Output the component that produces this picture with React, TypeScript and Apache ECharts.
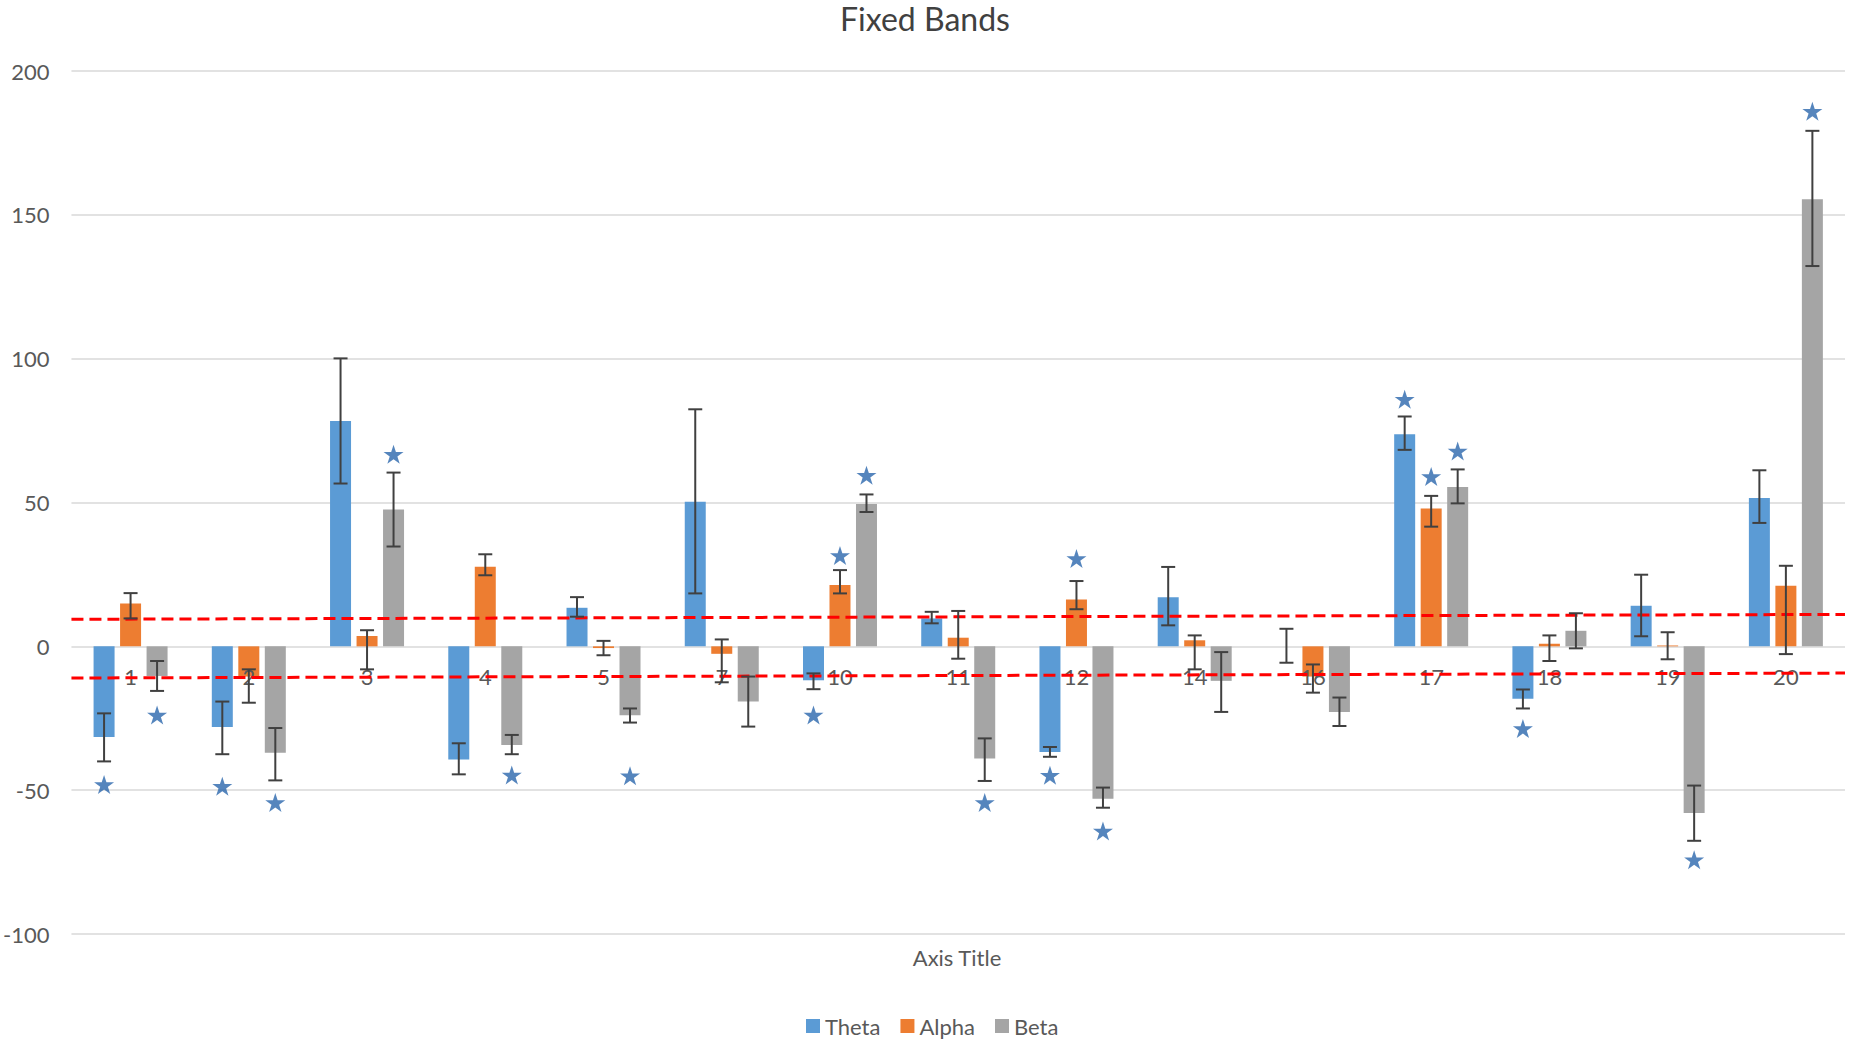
import React, { useEffect, useRef } from "react";
import * as echarts from "echarts";

const categories = ["1", "2", "3", "4", "5", "7", "10", "11", "12", "14", "16", "17", "18", "19", "20"];
const seriesNames = ["Theta", "Alpha", "Beta"];

const theta = [-31.5, -28, 78.3, -39.3, 13.4, 50.3, -11.8, 9.7, -36.7, 17.1, 0, 73.7, -18.2, 14.1, 51.6];
const thetaLow = [-40, -37.5, 56.6, -44.5, 10.3, 18.4, -14.9, 8, -38.4, 7.3, -5.7, 68.3, -21.6, 3.5, 42.9];
const thetaHigh = [-23.3, -19.2, 100.1, -33.7, 17.1, 82.4, -9.4, 12, -35, 27.6, 6.1, 79.9, -15, 24.9, 61.2];

const alpha = [14.9, -10.5, 3.6, 27.7, -0.6, -2.6, 21.3, 3, 16.3, 2.1, -10.5, 47.9, 0.9, 0.3, 21.1];
const alphaLow = [9.7, -19.6, -8, 24.7, -3.1, -12.5, 18.4, -4.3, 12.9, -8, -16.1, 41.6, -5.1, -4.5, -2.7];
const alphaHigh = [18.5, -8, 5.6, 32, 1.9, 2.4, 26.5, 12.3, 22.7, 3.8, -6.3, 52.3, 3.8, 4.9, 28];

const beta = [-10.3, -37, 47.6, -34.3, -24, -19.2, 49.5, -39, -53, -12, -22.8, 55.4, 5.4, -57.9, 155.4];
const betaLow = [-15.5, -46.6, 34.7, -37.5, -26.5, -27.9, 46.7, -46.8, -56.1, -22.8, -27.7, 49.7, -0.7, -67.6, 132.2];
const betaHigh = [-5.1, -28.4, 60.4, -30.8, -21.6, -10.5, 52.8, -32, -49.1, -2, -17.8, 61.5, 11.5, -48.4, 179.2];

const thetaStars = [-48, -48.6, null, null, null, null, -23.9, null, -44.8, null, null, 85.9, -28.6, null, null];
const alphaStars = [null, null, null, null, null, null, 31.6, null, 30.5, null, null, 59, null, null, null];
const betaStars = [-23.9, -54.3, 66.8, -44.7, -45, null, 59.5, -54.3, -64.2, null, null, 67.9, null, -74.2, 186];

// band lines: value at left edge, value at right edge
const upperBand = [9.4, 11.1];
const lowerBand = [-11.0, -9.3];

const yTicks = { min: -100, max: 200, interval: 50 };

const COLORS = ["#5B9BD5", "#ED7D31", "#A5A5A5"];
const STAR_COLOR = "#2B67AC";
const FONT = "Lato, 'Open Sans', sans-serif";
const BAR_W = 21;
const BAR_GAP_PX = 5.5;
const STAR_PATH =
  "path://M50,0 L61.2,34.5 L97.6,34.5 L68.2,55.9 L79.4,90.5 L50,69.1 L20.6,90.5 L31.8,55.9 L2.4,34.5 L38.8,34.5 Z";

function offsetFor(i: number) {
  return (i - 1) * (BAR_W + BAR_GAP_PX);
}

export default function App() {
  const ref = useRef<HTMLDivElement>(null);

  useEffect(() => {
    if (!ref.current) return;
    const chart = echarts.init(ref.current, undefined, { renderer: "svg" });

    const values = [theta, alpha, beta];
    const lows = [thetaLow, alphaLow, betaLow];
    const highs = [thetaHigh, alphaHigh, betaHigh];
    const stars = [thetaStars, alphaStars, betaStars];

    const barSeries = seriesNames.map((name, si) => ({
      name,
      type: "bar",
      data: values[si],
      barWidth: BAR_W,
      barGap: `${(BAR_GAP_PX / BAR_W) * 100}%`,
      itemStyle: { color: COLORS[si] },
      z: 2,
    }));

    const errSeries = seriesNames.map((name, si) => {
      const off = offsetFor(si);
      return {
        name: name + " error",
        type: "custom",
        z: 7,
        encode: { x: 0, y: [1, 2] },
        data: lows[si].map((lo, i) => [i, lo, highs[si][i]]),
        renderItem: (params: any, api: any) => {
          const idx = api.value(0);
          const pLo = api.coord([idx, api.value(1)]);
          const pHi = api.coord([idx, api.value(2)]);
          const cx = pLo[0] + off;
          const style = { stroke: "#404040", lineWidth: 2 };
          const cap = 7;
          return {
            type: "group",
            children: [
              { type: "line", shape: { x1: cx, y1: pLo[1], x2: cx, y2: pHi[1] }, style },
              { type: "line", shape: { x1: cx - cap, y1: pHi[1], x2: cx + cap, y2: pHi[1] }, style },
              { type: "line", shape: { x1: cx - cap, y1: pLo[1], x2: cx + cap, y2: pLo[1] }, style },
            ],
          };
        },
      };
    });

    const starSeries = seriesNames.map((name, si) => ({
      name: name + " sig",
      type: "scatter",
      z: 8,
      symbol: STAR_PATH,
      symbolSize: [20, 19],
      symbolOffset: [offsetFor(si), 0],
      itemStyle: { color: STAR_COLOR },
      data: stars[si].map((v, i) => (v === null ? [i, "-"] : [i, v])),
    }));

    const bandSeries = {
      name: "bands",
      type: "custom",
      z: 6,
      silent: true,
      encode: { x: 0, y: [1, 2] },
      data: [
        [0, upperBand[0], upperBand[1]],
        [0, lowerBand[0], lowerBand[1]],
      ],
      renderItem: (params: any, api: any) => {
        const cs = params.coordSys;
        const yL = api.coord([0, api.value(1)])[1];
        const yR = api.coord([0, api.value(2)])[1];
        return {
          type: "line",
          shape: { x1: cs.x, y1: yL, x2: cs.x + cs.width, y2: yR },
          style: { stroke: "#FF0000", lineWidth: 3, lineDash: [12, 6] },
        };
      },
    };

    // category labels drawn at the zero line (Excel "next to axis" labels)
    const labelSeries = {
      name: "category labels",
      type: "custom",
      z: 5,
      silent: true,
      encode: { x: 0, y: 1 },
      data: categories.map((c, i) => [i, 0]),
      renderItem: (params: any, api: any) => {
        const idx = api.value(0);
        const p = api.coord([idx, api.value(1)]);
        return {
          type: "text",
          x: p[0],
          y: p[1] + 19,
          style: {
            text: categories[idx],
            fontFamily: FONT,
            fontSize: 22,
            fill: "#595959",
            textAlign: "center",
            textVerticalAlign: "top",
          },
        };
      },
    };

    chart.setOption({
      animation: false,
      backgroundColor: "#ffffff",
      title: {
        text: "Fixed Bands",
        left: "center",
        top: 2,
        padding: 0,
        textStyle: { fontFamily: FONT, fontSize: 32, fontWeight: "normal", color: "#404040" },
      },
      legend: {
        data: seriesNames,
        left: 806,
        top: 1015,
        padding: 0,
        icon: "rect",
        itemWidth: 14,
        itemHeight: 14,
        itemGap: 20,
        textStyle: { fontFamily: FONT, fontSize: 22, color: "#595959" },
      },
      grid: { left: 69, right: 5, top: 71, bottom: 110, containLabel: false },
      xAxis: {
        type: "category",
        data: categories,
        axisLine: { show: false },
        axisTick: { show: false },
        axisLabel: { show: false },
        splitLine: { show: false },
      },
      yAxis: {
        type: "value",
        min: yTicks.min,
        max: yTicks.max,
        interval: yTicks.interval,
        axisLine: { show: false },
        axisTick: { show: false },
        axisLabel: { fontFamily: FONT, fontSize: 22, color: "#595959", margin: 22 },
        splitLine: { lineStyle: { color: "#d9d9d9", width: 1.5 } },
      },
      graphic: [
        {
          type: "text",
          x: 957,
          y: 957,
          style: {
            text: "Axis Title",
            fontFamily: FONT,
            fontSize: 22,
            fill: "#595959",
            textAlign: "center",
            textVerticalAlign: "middle",
          },
        },
      ],
      series: [...barSeries, ...errSeries, ...starSeries, bandSeries, labelSeries],
    });

    return () => chart.dispose();
  }, []);

  return (
    <div
      ref={ref}
      style={{ position: "fixed", left: 0, top: 0, width: 1850, height: 1044, background: "#fff" }}
    />
  );
}
